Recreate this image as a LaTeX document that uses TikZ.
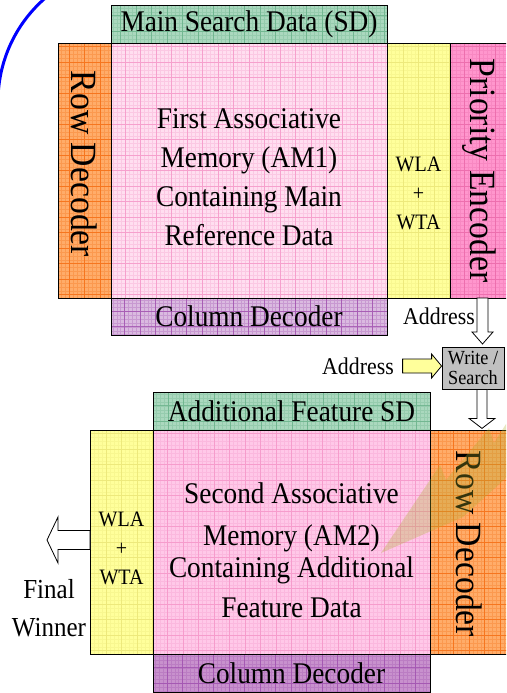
\documentclass[tikz,border=0pt]{standalone}
\usepackage{fontspec}
\setmainfont{Liberation Serif}[FakeStretch=0.91]
\usetikzlibrary{positioning}

\definecolor{sdgreen}{RGB}{170,216,190}
\definecolor{sdline}{RGB}{105,178,138}
\definecolor{ampink}{RGB}{255,222,240}
\definecolor{amline}{RGB}{245,150,200}
\definecolor{ampinkb}{RGB}{255,200,232}
\definecolor{rowor}{RGB}{255,172,105}
\definecolor{rowline}{RGB}{245,110,20}
\definecolor{wlay}{RGB}{255,255,155}
\definecolor{wlaline}{RGB}{235,230,120}
\definecolor{encpink}{RGB}{255,150,205}
\definecolor{encline}{RGB}{235,105,170}
\definecolor{colpur}{RGB}{218,186,224}
\definecolor{colpurb}{RGB}{200,145,205}
\definecolor{colline}{RGB}{160,80,175}
\definecolor{wsgray}{RGB}{192,192,192}
\definecolor{bolt}{RGB}{175,175,45}

\tikzset{
  block/.style 2 args={draw, line width=0.9pt, fill=#1, inner sep=0pt, outer sep=0pt,
    path picture={
      \draw[#2, line width=0.2pt, opacity=0.3] (path picture bounding box.south west) grid[step=3.875pt] (path picture bounding box.north east);
      \draw[#2, line width=0.6pt, opacity=0.8] (path picture bounding box.south west) grid[step=15.5pt] (path picture bounding box.north east);}},
  bigtxt/.style={font=\fontsize{30}{39}\selectfont, align=center},
  sidetxt/.style={font=\fontsize{37}{40}\selectfont, rotate=-90},
  smalltxt/.style={font=\fontsize{22}{29}\selectfont, align=center},
  adrtxt/.style={font=\fontsize{24}{24}\selectfont},
  fatarrow/.style={draw, line width=0.8pt, fill=white, line join=miter},
}

\begin{document}
\begin{tikzpicture}[x=1pt,y=-1pt]
  \useasboundingbox (0,0) rectangle (506,693);
  \clip (0,0) rectangle (506,693);

  % first memory with its periphery
  \node (am1) [block={ampink}{amline}, minimum width=276pt, minimum height=255pt] at (249,170.5) {};
  \node (sd1) [block={sdgreen}{sdline}, minimum width=276pt, minimum height=38pt, above=0pt of am1, bigtxt] {Main Search Data (SD)};
  \node (row1) [block={rowor}{rowline}, minimum width=53pt, minimum height=255pt, left=0pt of am1] {};
  \node (wla1) [block={wlay}{wlaline}, minimum width=63pt, minimum height=255pt, right=0pt of am1] {};
  \node (enc) [block={encpink}{encline}, minimum width=59pt, minimum height=255pt, right=0pt of wla1] {};
  \node (col1) [block={colpur}{colline}, minimum width=276pt, minimum height=37pt, below=0pt of am1, bigtxt] {Column Decoder};

  \node (am1txt) [bigtxt] at ([yshift=-6.5pt]am1.center) {First Associative\\Memory (AM1)\\Containing Main\\Reference Data};
  \node (row1txt) [sidetxt] at ([yshift=6.5pt]row1.center) {Row Decoder};
  \node (wla1txt) [smalltxt] at ([yshift=-23pt]wla1.center) {WLA\\+\\WTA};
  \node (enctxt) [sidetxt] at (enc.center) {Priority Encoder};

  % write / search control
  \node (ws) [draw, line width=0.8pt, fill=wsgray, minimum width=62pt, minimum height=42pt, inner sep=0pt,
    font=\fontsize{20}{20}\selectfont, align=center] at (473,368) {Write /\\Search};

  % hollow block arrows
  \draw[fatarrow] ([xshift=-2.5pt]enc.south) -- ++(0,34) -- ++(-5,0) -- ++(10.5,12) -- ++(10.5,-12) -- ++(-5,0) -- ++(0,-34) -- cycle;
  \node (adr1) [adrtxt] at (439,316) {Address};
  \draw[fatarrow, fill=wlay] ([yshift=2pt]ws.west) -- ++(-10,-12) -- ++(0,5) -- ++(-29,0) -- ++(0,14) -- ++(29,0) -- ++(0,5) -- cycle;
  \node (adr2) [adrtxt] at (358,366) {Address};
  \draw[fatarrow] ([xshift=4pt]ws.south) -- ++(0,29) -- ++(-8,0) -- ++(13,10) -- ++(13,-10) -- ++(-8,0) -- ++(0,-29) -- cycle;

  % second memory
  \node (am2) [block={ampinkb}{amline}, minimum width=277pt, minimum height=224pt] at (291.5,542) {};
  \node (sd2) [block={sdgreen}{sdline}, minimum width=277pt, minimum height=38pt, above=0pt of am2, bigtxt] {Additional Feature SD};
  \node (wla2) [block={wlay}{wlaline}, minimum width=63pt, minimum height=224pt, left=0pt of am2] {};
  \node (row2) [block={rowor}{rowline}, minimum width=78pt, minimum height=224pt, right=0pt of am2] {};
  \node (col2) [block={colpurb}{colline}, minimum width=277pt, minimum height=38pt, below=0pt of am2, bigtxt] {Column Decoder};

  \node (am2txt) [bigtxt] at ([yshift=-8pt]am2.center) {Second Associative\\[3pt]Memory (AM2)\\[-7pt]Containing Additional\\[1pt]Feature Data};
  \node (wla2txt) [smalltxt] at ([yshift=-6pt]wla2.center) {WLA\\+\\WTA};
  \node (row2txt) [sidetxt] at ([yshift=-2pt]row2.center) {Row Decoder};

  \draw[fatarrow] ([yshift=11.5pt]wla2.west) -- ++(-32,0) -- ++(0,-13.5) -- ++(-11,23) -- ++(11,23) -- ++(0,-13.5) -- ++(32,0) -- cycle;
  \node (win) [font=\fontsize{27.5}{38}\selectfont, align=center] at (49,608) {Final\\Winner};

  % flash over the second memory
  \fill[bolt, opacity=0.3] (381,553) -- (440,465) -- (446,480) -- (489,428) -- (494,443)
    -- (506,424) -- (506,478) -- (463,517) -- cycle;

  % blue arc in the corner
  \draw[blue, line width=3pt] (134.7,101.4) ++(235:136.7) arc[start angle=235, end angle=185, radius=136.7];
\end{tikzpicture}
\end{document}
